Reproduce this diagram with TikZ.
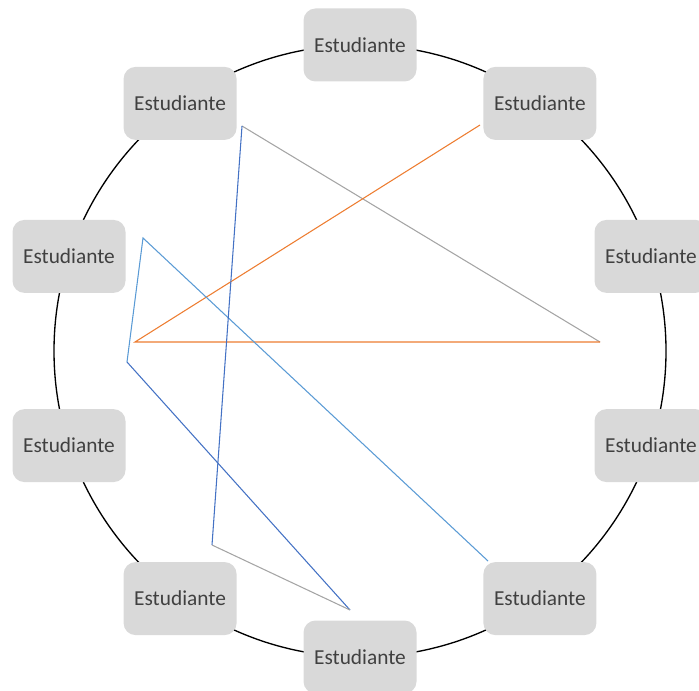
\documentclass[tikz,border=0pt]{standalone}
\usepackage{fontspec}
\setmainfont{Carlito}
\definecolor{boxgray}{HTML}{D9D9D9}
\definecolor{txtgray}{HTML}{404040}
\definecolor{lorange}{HTML}{ED7D31}
\definecolor{lblue}{HTML}{5B9BD5}
\definecolor{dblue}{HTML}{4472C4}
\definecolor{lgray}{HTML}{A5A5A5}
\begin{document}
\begin{tikzpicture}[x=0.75pt,y=-0.75pt,
  student/.style={fill=boxgray,rounded corners=9pt,minimum width=84.75pt,minimum height=54.75pt,inner sep=0pt,text=txtgray,font=\fontsize{16pt}{19pt}\selectfont},
  link/.style={line width=0.8pt}]
\useasboundingbox (0,0) rectangle (699,691);
\coordinate (c) at (360,351);
\draw[line width=1pt] (c) circle[radius=229.5pt];
\node[student] (s1) at (360,45) {Estudiante};
\node[student] (s2) at (539.9,103.4) {Estudiante};
\node[student] (s3) at (651,256.4) {Estudiante};
\node[student] (s4) at (651,445.6) {Estudiante};
\node[student] (s5) at (539.9,598.6) {Estudiante};
\node[student] (s6) at (360,657) {Estudiante};
\node[student] (s7) at (180.1,598.6) {Estudiante};
\node[student] (s8) at (69,445.6) {Estudiante};
\node[student] (s9) at (69,256.4) {Estudiante};
\node[student] (s10) at (180.1,103.4) {Estudiante};
\coordinate (A) at (242,126);
\coordinate (B) at (600,342);
\coordinate (C) at (135,342);
\coordinate (D) at (480,125);
\coordinate (E) at (143,238);
\coordinate (F) at (127,362);
\coordinate (G) at (488,561);
\coordinate (H) at (212,545);
\coordinate (I) at (350,610);
\draw[link,lgray] (A) -- (B);
\draw[link,lorange] (D) -- (C) -- (B);
\draw[link,lblue] (G) -- (E) -- (F);
\draw[link,dblue] (F) -- (I);
\draw[link,dblue] (A) -- (H);
\draw[link,lgray] (H) -- (I);
\end{tikzpicture}
\end{document}
